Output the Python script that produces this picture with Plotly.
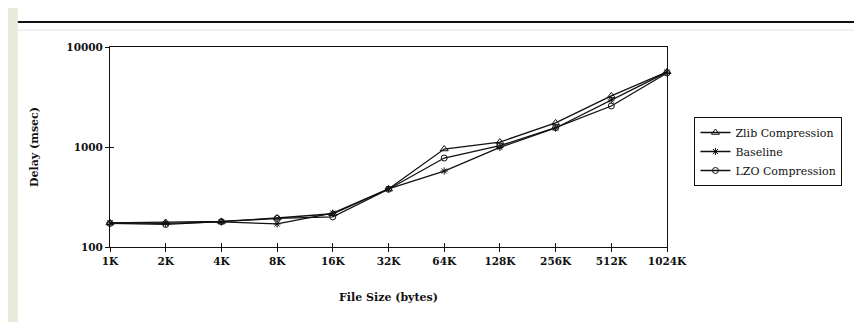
import plotly.graph_objects as go

categories = ["1K", "2K", "4K", "8K", "16K", "32K", "64K", "128K", "256K", "512K", "1024K"]
zlib = [174, 176, 180, 195, 215, 380, 955, 1120, 1740, 3240, 5650]
baseline = [174, 172, 178, 170, 218, 382, 575, 990, 1550, 2950, 5600]
lzo = [172, 168, 179, 193, 200, 378, 776, 1030, 1560, 2570, 5500]
y_tickvals = [100, 1000, 10000]
y_ticktext = ["100", "1000", "10000"]

OFF = 8  # page body margin; keep the figure inside the viewport to avoid scrollbars
W, H = 862 - 2 * OFF, 330 - 2 * OFF
L, T = 110 - OFF, 47 - OFF
pw, ph = 568, 200
R, B = W - L - pw, H - T - ph

# page-pixel -> paper coordinates
def px(x):
    return (x - OFF - L) / pw

def py(y):
    return (T + ph - (y - OFF)) / ph

serif = "DejaVu Serif"
ink = "#111111"
bg = "#e8eadb"

fig = go.Figure()
series = [
    ("Zlib Compression", zlib, "triangle-up-open", 7),
    ("Baseline", baseline, "asterisk-open", 6),
    ("LZO Compression", lzo, "circle-open", 6),
]
for name, vals, sym, sz in series:
    fig.add_trace(go.Scatter(
        x=categories, y=vals, name=name, mode="lines+markers",
        line=dict(color=ink, width=1.3),
        marker=dict(symbol=sym, size=sz, color=ink, line=dict(width=1, color=ink)),
        cliponaxis=False,
    ))

# invisible trace on overlaid axes to draw inward tick halves
fig.add_trace(go.Scatter(x=categories, y=zlib, xaxis="x2", yaxis="y2",
                         mode="markers", marker=dict(opacity=0), showlegend=False,
                         hoverinfo="skip"))

axis_common = dict(showgrid=False, zeroline=False, showline=True, linecolor=ink,
                   linewidth=1, mirror=True, tickcolor=ink, tickwidth=1)
tickfont = dict(family=serif, size=10.5, color=ink, weight="bold")

fig.update_layout(
    width=W, height=H,
    margin=dict(l=L, r=R, t=T, b=B, pad=0),
    paper_bgcolor=bg,
    plot_bgcolor="white",
    showlegend=True,
    legend=dict(x=px(706), y=py(117), xanchor="left", yanchor="top",
                bgcolor="white", bordercolor=ink, borderwidth=1,
                font=dict(family=serif, size=11, color=ink),
                tracegroupgap=0, itemwidth=30),
    xaxis=dict(type="category", categoryorder="array", categoryarray=categories,
               range=[0, 10], ticks="outside", ticklen=4,
               tickfont=tickfont,
               title=dict(text="<b>File Size (bytes)</b>", standoff=27,
                          font=dict(family=serif, size=11, color=ink)),
               **axis_common),
    yaxis=dict(type="log", range=[2, 4], tickvals=y_tickvals, ticktext=y_ticktext,
               ticks="outside", ticklen=4,
               tickfont=tickfont,
               title=dict(text="<b>Delay (msec)</b>", standoff=25,
                          font=dict(family=serif, size=11, color=ink)),
               **axis_common),
    xaxis2=dict(type="category", categoryorder="array", categoryarray=categories,
                range=[0, 10], overlaying="x", ticks="inside", ticklen=4,
                showticklabels=False, showgrid=False, zeroline=False, showline=False,
                tickcolor=ink, tickwidth=1, side="bottom"),
    yaxis2=dict(type="log", range=[2, 4], tickvals=y_tickvals, overlaying="y",
                ticks="inside", ticklen=4, showticklabels=False, showgrid=False,
                zeroline=False, showline=False, tickcolor=ink, tickwidth=1, side="left"),
    shapes=[
        dict(type="rect", xref="paper", yref="paper", x0=px(16), x1=px(872),
             y0=py(340), y1=py(5), fillcolor="white", line=dict(width=0), layer="below"),
        dict(type="line", xref="paper", yref="paper", x0=px(16), x1=px(872),
             y0=py(22), y1=py(22), line=dict(color="#111111", width=2.2)),
        dict(type="line", xref="paper", yref="paper", x0=px(16), x1=px(872),
             y0=py(30), y1=py(30), line=dict(color="#e4e4e4", width=1)),
    ],
)

fig.write_html("out.html")
